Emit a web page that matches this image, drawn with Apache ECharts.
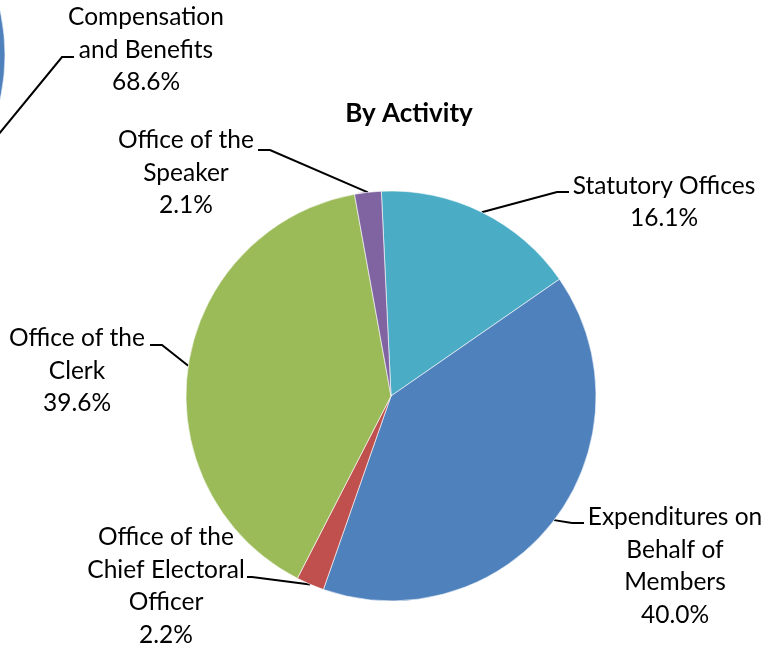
<!DOCTYPE html>
<html>
<head>
<meta charset="utf-8">
<script src="https://cdn.jsdelivr.net/npm/echarts@6/dist/echarts.min.js"></script>
<style>
html,body{margin:0;padding:0;background:#fff;}
#chart{width:782px;height:652px;}
</style>
</head>
<body>
<div id="chart"></div>
<script>
// Data
const activityNames = [
  "Statutory Offices",
  "Expenditures on\nBehalf of\nMembers",
  "Office of the\nChief Electoral\nOfficer",
  "Office of the\nClerk",
  "Office of the\nSpeaker"
];
const activityValues = [16.1, 40.0, 2.2, 39.6, 2.1];
const activityColors = ["#4BACC6", "#4F81BD", "#C0504D", "#9BBB59", "#8064A2"];

const typeNames = ["Compensation\nand Benefits", "Other"];
const typeValues = [68.6, 31.4];
const typeColors = ["#4F81BD", "#C0504D"];

// Label layout (centre of label block, and elbow / end of leader line)
const activityLabelPos = [
  {x: 664, y: 202, elbow: [557, 192], end: [569, 192]},
  {x: 675, y: 566, elbow: [572, 523], end: [584, 523]},
  {x: 166, y: 586, elbow: [252, 577], end: [247, 577]},
  {x: 77,  y: 371, elbow: [162, 345], end: [150, 345]},
  {x: 186, y: 173, elbow: [270, 150], end: [258, 150]}
];
const typeLabelPos = [
  {x: 146, y: 50, elbow: [62, 57], end: [74, 57]},
  null
];

const FONT = "Lato";
const FS = 24.5;
const LH = 32.5;

const chart = echarts.init(document.getElementById('chart'), null, {renderer: 'canvas'});

function layoutFor(posArr) {
  return function (params) {
    const p = posArr[params.dataIndex];
    if (!p) return {};
    const start = params.labelLinePoints ? params.labelLinePoints[0] : p.elbow;
    return {
      x: p.x, y: p.y, align: 'center', verticalAlign: 'middle',
      labelLinePoints: [start, p.elbow, p.end]
    };
  };
}

const option = {
  animation: false,
  backgroundColor: '#ffffff',
  title: {
    text: 'By Activity',
    left: 404, top: 109, textAlign: 'center', textVerticalAlign: 'middle',
    textStyle: {fontFamily: FONT, fontSize: 26, fontWeight: 'bold', color: '#000'}
  },
  series: [
    {
      type: 'pie',
      center: [391, 396],
      radius: 205,
      startAngle: 92.7,
      clockwise: true,
      avoidLabelOverlap: false,
      itemStyle: {borderColor: '#ffffff', borderWidth: 0.6},
      label: {
        show: true, position: 'outside',
        formatter: p => p.name + '\n' + p.value.toFixed(1) + '%',
        fontFamily: FONT, fontSize: FS, lineHeight: LH, color: '#000', align: 'center'
      },
      labelLine: {show: true, length: 20, length2: 10, lineStyle: {color: '#000', width: 2}},
      labelLayout: layoutFor(activityLabelPos),
      data: activityNames.map((n, i) => ({name: n, value: activityValues[i], itemStyle: {color: activityColors[i]}}))
    },
    {
      type: 'pie',
      center: [-200, 55],
      radius: 205,
      startAngle: 90,
      clockwise: true,
      avoidLabelOverlap: false,
      itemStyle: {borderColor: '#ffffff', borderWidth: 0.6},
      label: {
        show: true, position: 'outside',
        formatter: p => p.dataIndex === 0 ? p.name + '\n' + p.value.toFixed(1) + '%' : '',
        fontFamily: FONT, fontSize: FS, lineHeight: LH, color: '#000', align: 'center'
      },
      labelLine: {show: true, length: 20, length2: 10, lineStyle: {color: '#000', width: 2}},
      labelLayout: layoutFor(typeLabelPos),
      data: typeNames.map((n, i) => ({
        name: n, value: typeValues[i], itemStyle: {color: typeColors[i]},
        label: {show: i === 0}, labelLine: {show: i === 0}
      }))
    }
  ]
};
chart.setOption(option);
</script>
</body>
</html>
